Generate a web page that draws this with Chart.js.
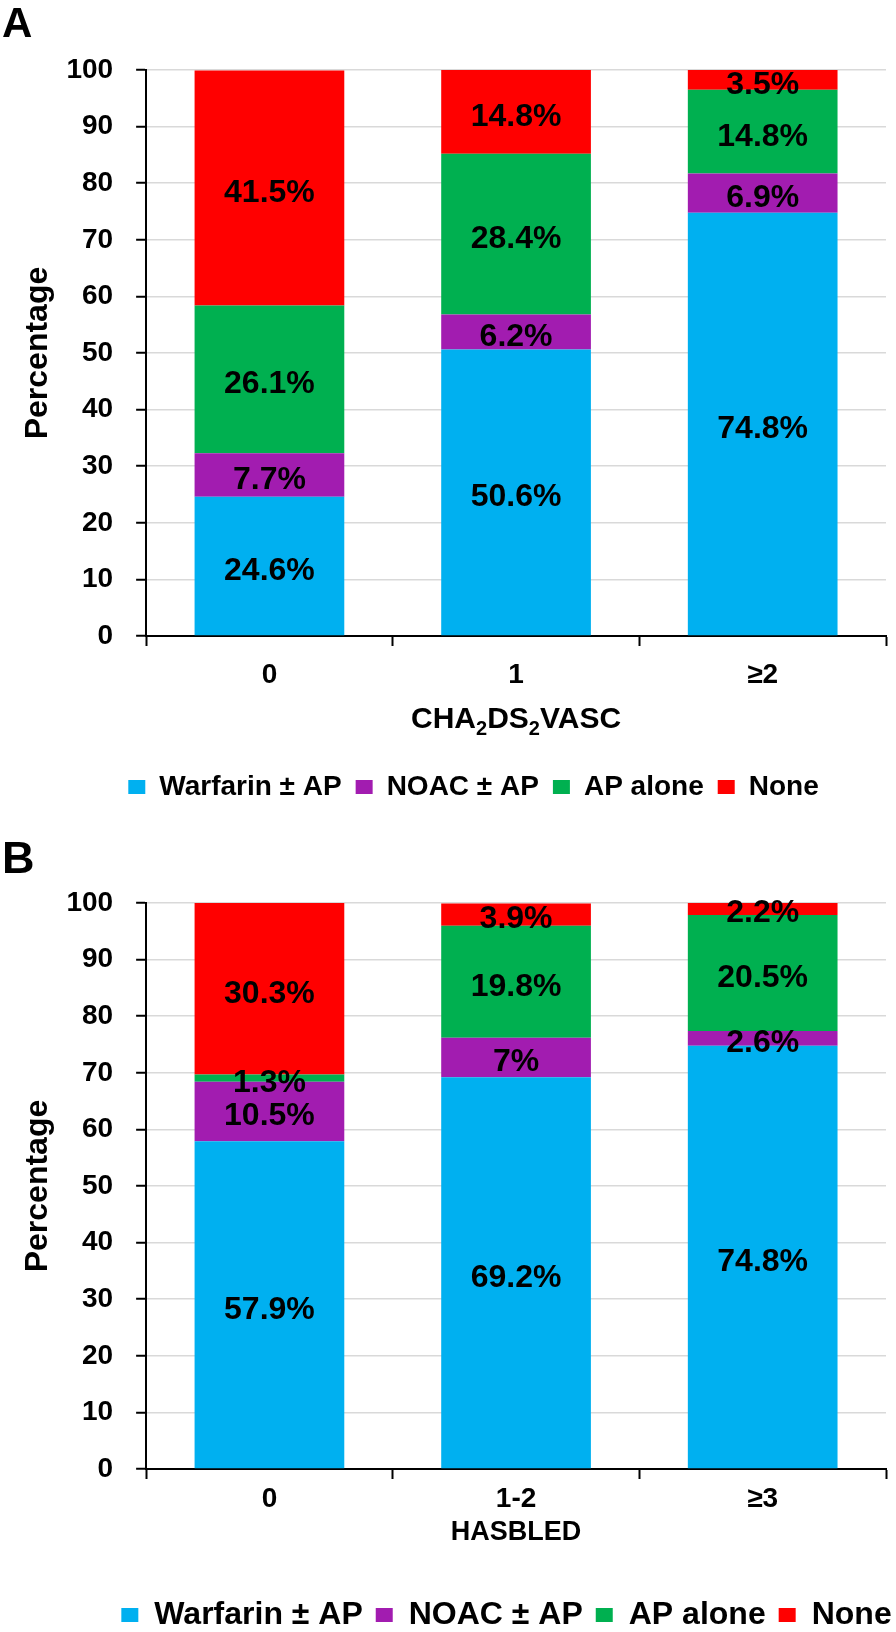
<!DOCTYPE html>
<html>
<head>
<meta charset="utf-8">
<script src="https://cdn.jsdelivr.net/npm/chart.js@4.4.1/dist/chart.umd.min.js"></script>
<style>
  html, body { margin: 0; padding: 0; background: #fff; overflow: hidden; width: 896px; height: 1632px; }
  canvas { position: absolute; left: 0; }
</style>
</head>
<body>
<canvas id="chartA" width="896" height="816" style="top:0"></canvas>
<canvas id="chartB" width="896" height="830" style="top:816px"></canvas>
<script>
const seriesNames = ['Warfarin ± AP', 'NOAC ± AP', 'AP alone', 'None'];
const seriesColors = ['#00B0F0', '#A21CB0', '#00B050', '#FF0000'];
const yTicks = [0, 10, 20, 30, 40, 50, 60, 70, 80, 90, 100];

// A: CHA2DS2VASC
const chadsLabels = ['0', '1', '≥2'];
const chadsWarfarin = [24.6, 50.6, 74.8];
const chadsNoac = [7.7, 6.2, 6.9];
const chadsApAlone = [26.1, 28.4, 14.8];
const chadsNone = [41.5, 14.8, 3.5];

// B: HASBLED
const hasbledLabels = ['0', '1-2', '≥3'];
const hasbledWarfarin = [57.9, 69.2, 74.8];
const hasbledNoac = [10.5, 7, 2.6];
const hasbledApAlone = [1.3, 19.8, 20.5];
const hasbledNone = [30.3, 3.9, 2.2];

const FONT = "'Liberation Sans', Arial, Helvetica, sans-serif";
Chart.defaults.font.family = FONT;
Chart.defaults.color = '#000';

const segmentLabels = {
  id: 'segmentLabels',
  afterDatasetsDraw(chart) {
    const ctx = chart.ctx;
    ctx.save();
    ctx.font = `bold 32px ${FONT}`;
    ctx.fillStyle = '#000';
    ctx.textAlign = 'center';
    ctx.textBaseline = 'middle';
    chart.data.datasets.forEach((ds, i) => {
      chart.getDatasetMeta(i).data.forEach((bar, j) => {
        const { x, y, base } = bar.getProps(['x', 'y', 'base'], true);
        ctx.fillText(ds.data[j] + '%', x, (y + base) / 2 + 5);
      });
    });
    ctx.restore();
  }
};

const panelExtras = {
  id: 'panelExtras',
  afterLayout(chart, args, opts) {
    const lg = chart.legend;
    if (lg && opts.legendShift) {
      lg.left += opts.legendShift;
      lg.right += opts.legendShift;
    }
  },
  afterDraw(chart, args, opts) {
    const ctx = chart.ctx;
    ctx.save();
    ctx.fillStyle = '#000';
    ctx.textBaseline = 'alphabetic';
    ctx.textAlign = 'left';
    ctx.font = `bold ${opts.letterSize}px ${FONT}`;
    ctx.fillText(opts.letter, 2, opts.letterY);

    if (opts.titleParts) {
      const area = chart.chartArea;
      const xs = chart.scales.x;
      const size = opts.titleSize, subSize = Math.round(size * 0.68);
      const y = xs.bottom - opts.titlePadBottom - size * 1.2 / 2;
      const parts = opts.titleParts.map(([t, sub]) => {
        ctx.font = `bold ${sub ? subSize : size}px ${FONT}`;
        return { t, sub, w: ctx.measureText(t).width };
      });
      const total = parts.reduce((s, p) => s + p.w, 0);
      let x = (area.left + area.right) / 2 - total / 2;
      ctx.textBaseline = 'middle';
      parts.forEach(p => {
        ctx.font = `bold ${p.sub ? subSize : size}px ${FONT}`;
        ctx.fillText(p.t, x, p.sub ? y + 9 : y);
        x += p.w;
      });
    }
    ctx.restore();
  }
};

function makeChart(id, labels, values, cfg) {
  const ctx = document.getElementById(id).getContext('2d');
  return new Chart(ctx, {
    type: 'bar',
    data: {
      labels,
      datasets: values.map((data, i) => ({
        label: seriesNames[i],
        data,
        backgroundColor: seriesColors[i],
        borderWidth: 0,
        barPercentage: 0.607,
        categoryPercentage: 1,
      })),
    },
    options: {
      responsive: false,
      animation: false,
      devicePixelRatio: 1,
      layout: { padding: cfg.padding },
      plugins: {
        tooltip: { enabled: false },
        legend: {
          position: 'bottom',
          labels: {
            boxWidth: 17,
            boxHeight: 14,
            padding: cfg.legendPadding,
            color: '#000',
            font: { size: cfg.legendSize, weight: 'bold' },
          },
        },
        panelExtras: cfg.extras,
      },
      scales: {
        x: {
          stacked: true,
          grid: { offset: true, drawOnChartArea: false, tickLength: 10, tickColor: '#000', tickWidth: 2 },
          border: { color: '#000', width: 2 },
          ticks: { padding: cfg.xTickPad, color: '#000', font: { size: 28, weight: 'bold' } },
          title: {
            display: true,
            text: cfg.xTitle,
            color: cfg.xTitleColor,
            font: { size: cfg.titleSize, weight: 'bold' },
            padding: { top: cfg.titlePadTop, bottom: cfg.titlePadBottom },
          },
        },
        y: {
          stacked: true,
          min: 0,
          max: 100,
          afterBuildTicks: axis => { axis.ticks = yTicks.map(v => ({ value: v })); },
          grid: { color: '#d9d9d9', lineWidth: 1.5, tickLength: 10, tickColor: '#000', tickWidth: 2 },
          border: { color: '#000', width: 2 },
          ticks: { padding: 23, color: '#000', font: { size: 28, weight: 'bold' } },
          title: {
            display: true,
            text: 'Percentage',
            color: '#000',
            font: { size: 32, weight: 'bold' },
            padding: { top: 4, bottom: -14 },
          },
        },
      },
    },
    plugins: [segmentLabels, panelExtras],
  });
}

makeChart('chartA', chadsLabels, [chadsWarfarin, chadsNoac, chadsApAlone, chadsNone], {
  padding: { top: 70, left: 15, right: 10, bottom: 5 },
  legendPadding: 14,
  legendSize: 28,
  xTickPad: 12,
  xTitle: 'CHA2DS2VASC',
  xTitleColor: 'rgba(0,0,0,0)',
  titleSize: 30,
  titlePadTop: -1.6,
  titlePadBottom: 21,
  extras: {
    letter: 'A', letterSize: 42, letterY: 37, legendShift: 23,
    titleSize: 30,
    titlePadBottom: 21,
    titleParts: [['CHA', false], ['2', true], ['DS', false], ['2', true], ['VASC', false]],
  },
});

makeChart('chartB', hasbledLabels, [hasbledWarfarin, hasbledNoac, hasbledApAlone, hasbledNone], {
  padding: { top: 87, left: 15, right: 10, bottom: 5 },
  legendPadding: 13,
  legendSize: 32,
  xTickPad: 3,
  xTitle: 'HASBLED',
  xTitleColor: '#000',
  titleSize: 27,
  titlePadTop: -1.8,
  titlePadBottom: 36.8,
  extras: { letter: 'B', letterSize: 45, letterY: 57, legendShift: 56 },
});
</script>
</body>
</html>
